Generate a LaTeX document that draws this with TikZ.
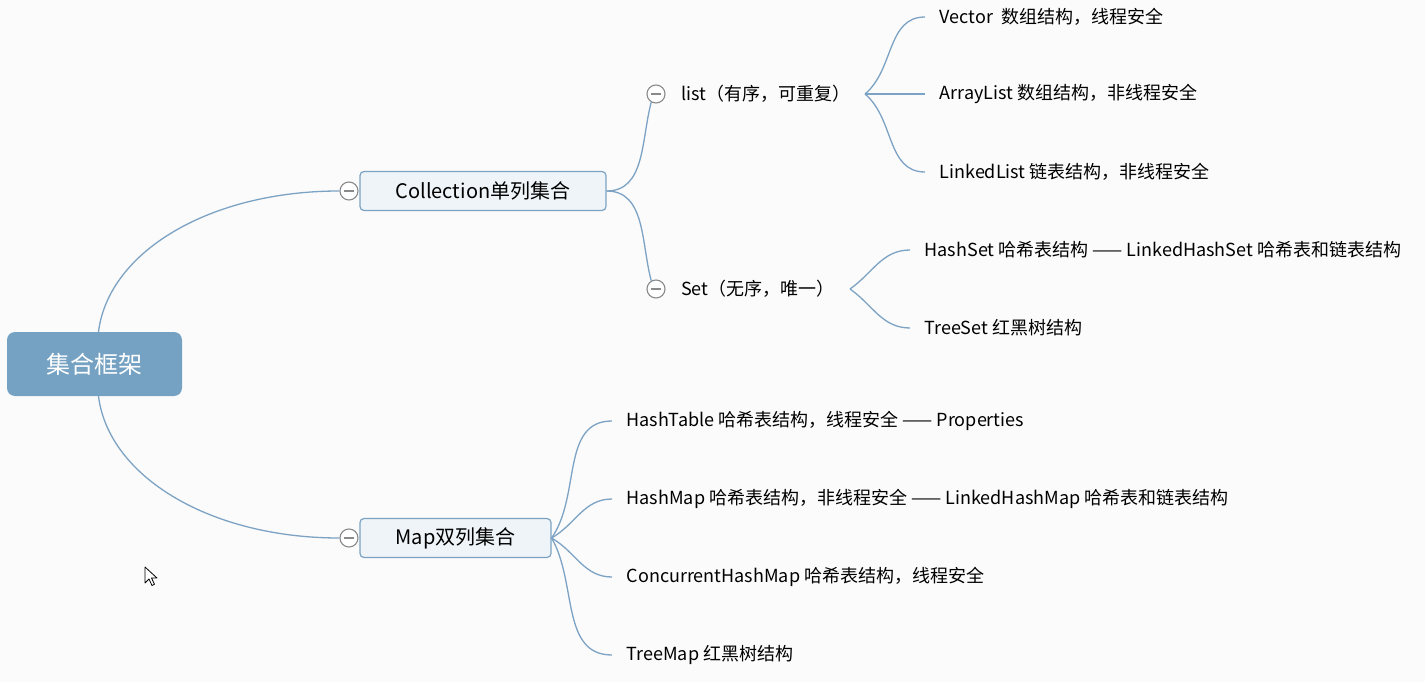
\documentclass[tikz,border=0pt]{standalone}
\usepackage{fontspec}
\usepackage{tikz}
\newfontfamily\cjk{Noto Sans CJK SC}
\definecolor{mapline}{RGB}{124,163,196}
\definecolor{rootblue}{RGB}{117,162,194}
\definecolor{topicfill}{RGB}{238,244,248}
\definecolor{knobgray}{RGB}{138,138,138}
\definecolor{paper}{RGB}{251,251,251}

\begin{document}
\begin{tikzpicture}[
   x=1pt, y=-1pt,
   root/.style={rectangle, rounded corners=8pt, fill=rootblue, text=white,
      minimum width=175pt, minimum height=64pt, inner sep=0pt,
      font=\cjk\fontsize{24}{28}\selectfont},
   topic/.style={rectangle, rounded corners=4pt, draw=mapline, line width=1.2pt,
      fill=topicfill, minimum height=39pt, inner sep=0pt,
      font=\cjk\fontsize{20}{24}\selectfont},
   knob/.style={circle, draw=knobgray, fill=white, line width=1.1pt,
      minimum size=18pt, inner sep=0pt,
      path picture={\draw[knobgray, line width=1.1pt]
         ([xshift=-5pt]path picture bounding box.center) --
         ([xshift=5pt]path picture bounding box.center);}},
   sub/.style={anchor=west, inner sep=0pt, font=\cjk\fontsize{18}{22}\selectfont},
   leaf/.style={anchor=west, inner xsep=14.5pt, inner ysep=0pt,
      font=\cjk\fontsize{18}{22}\selectfont},
   branch/.style={draw=mapline, line width=1.3pt}
]
   \fill[paper] (0,0) rectangle (1425,682);
   \useasboundingbox (0,0) rectangle (1425,682);

   % central topic and its two main branches
   \node[root] (root) at (94.5,364) {集合框架};
   \node[topic, minimum width=246pt] (coll) at (483,191) {Collection单列集合};
   \node[topic, minimum width=191pt] (map) at (455.5,538) {Map双列集合};
   \node[knob] (collknob) at (349,191) {};
   \node[knob] (mapknob) at (349,538) {};

   \draw[branch] ([xshift=4pt]root.north) .. controls +(10,-80) and +(-130,0) .. (collknob.west);
   \draw[branch] ([xshift=4pt]root.south) .. controls +(10,80) and +(-130,0) .. (mapknob.west);

   % Collection side
   \node[knob] (listknob) at (656,94) {};
   \node[knob] (setknob) at (656,289) {};
   \node[sub] (list) at (681,94) {list（有序，可重复）};
   \node[sub] (set) at (681,289) {Set（无序，唯一）};
   \draw[branch] (coll.east) to[out=0, in=-105] (listknob.240);
   \draw[branch] (coll.east) to[out=0, in=105] (setknob.120);

   \coordinate (listfork) at (865,94);
   \node[leaf] (vector) at (925,17) {Vector\ \ 数组结构，线程安全};
   \node[leaf] (arraylist) at (925,94) {ArrayList 数组结构，非线程安全};
   \node[leaf] (linkedlist) at (925,172) {LinkedList 链表结构，非线程安全};
   \draw[branch] (listfork) to[out=40, in=180] (vector.west);
   \draw[branch] (listfork) -- (arraylist.west);
   \draw[branch] (listfork) to[out=-40, in=180] (linkedlist.west);

   \coordinate (setfork) at (850,289);
   \node[leaf] (hashset) at (910,250) {HashSet 哈希表结构 —— LinkedHashSet 哈希表和链表结构};
   \node[leaf] (treeset) at (910,328) {TreeSet 红黑树结构};
   \draw[branch] (setfork) to[out=35, in=180] (hashset.west);
   \draw[branch] (setfork) to[out=-35, in=180] (treeset.west);

   % Map side
   \node[leaf] (hashtable) at (612,421) {HashTable 哈希表结构，线程安全 —— Properties};
   \node[leaf] (hashmap) at (612,499) {HashMap 哈希表结构，非线程安全 —— LinkedHashMap 哈希表和链表结构};
   \node[leaf] (concmap) at (612,577) {ConcurrentHashMap 哈希表结构，线程安全};
   \node[leaf] (treemap) at (612,655) {TreeMap 红黑树结构};
   \draw[branch] (map.east) to[out=55, in=180] (hashtable.west);
   \draw[branch] (map.east) to[out=30, in=180] (hashmap.west);
   \draw[branch] (map.east) to[out=-30, in=180] (concmap.west);
   \draw[branch] (map.east) to[out=-60, in=180] (treemap.west);

   % mouse pointer
   \draw[fill=white, line width=0.8pt, line join=round] (145,567) -- ++(0,16) -- ++(4,-4)
      -- ++(3,6.5) -- ++(2.5,-1.2) -- ++(-3,-6.3) -- ++(5.5,0) -- cycle;
\end{tikzpicture}
\end{document}
